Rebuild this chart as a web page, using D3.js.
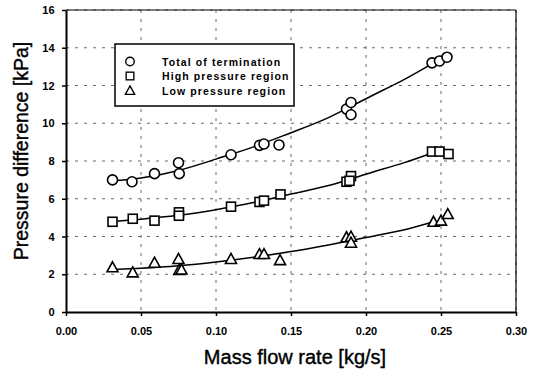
<!DOCTYPE html>
<html>
<head>
<meta charset="utf-8">
<script src="https://cdn.jsdelivr.net/npm/d3@7"></script>
<style>
  body { margin: 0; background: #fff; }
  svg text { font-family: "Liberation Sans", Arial, sans-serif; }
</style>
</head>
<body>
<div id="chart"></div>
<script>
var totalX = [0.031, 0.044, 0.059, 0.075, 0.0755, 0.110, 0.129, 0.132, 0.142, 0.187, 0.190, 0.190, 0.244, 0.249, 0.254]
var totalY = [7.0, 6.9, 7.33, 7.91, 7.33, 8.33, 8.83, 8.9, 8.85, 10.75, 11.1, 10.45, 13.2, 13.3, 13.5]

var highX = [0.031, 0.0445, 0.059, 0.0753, 0.0753, 0.110, 0.129, 0.132, 0.143, 0.187, 0.190, 0.189, 0.244, 0.249, 0.255]
var highY = [4.78, 4.94, 4.84, 5.28, 5.1, 5.58, 5.83, 5.9, 6.23, 6.9, 7.2, 6.95, 8.5, 8.5, 8.37]

var lowX = [0.031, 0.0445, 0.059, 0.075, 0.0755, 0.077, 0.110, 0.129, 0.132, 0.1427, 0.187, 0.190, 0.190, 0.245, 0.250, 0.2545]
var lowY = [2.37, 2.1, 2.61, 2.81, 2.23, 2.25, 2.81, 3.07, 3.07, 2.75, 3.96, 3.99, 3.67, 4.78, 4.84, 5.19]

// trend curves
var fitX = [0.031, 0.05, 0.075, 0.10, 0.125, 0.15, 0.175, 0.20, 0.225, 0.245]
var totalFit = [6.95, 7.1, 7.5, 8.1, 8.75, 9.5, 10.3, 11.3, 12.3, 13.2]
var highFit = [4.8, 4.92, 5.12, 5.42, 5.8, 6.25, 6.7, 7.3, 7.9, 8.45]
var lowFit = [2.25, 2.32, 2.45, 2.65, 2.9, 3.2, 3.55, 3.95, 4.35, 4.78]

var xTicks = [0.00, 0.05, 0.10, 0.15, 0.20, 0.25, 0.30]
var yTicks = [0, 2, 4, 6, 8, 10, 12, 14, 16]
var legendLabels = ['Total of termination', 'High pressure region', 'Low pressure region']

var margin = {top: 10, right: 21, bottom: 60, left: 66},
    width = 537 - margin.left - margin.right,
    height = 372 - margin.top - margin.bottom;

var svg = d3.select('#chart')
  .append('svg')
  .attr('width', 537)
  .attr('height', 372)
  .append('g')
  .attr('transform', 'translate(' + margin.left + ',' + margin.top + ')')

var x = d3.scaleLinear().domain([0, 0.30]).range([0, width])
var y = d3.scaleLinear().domain([0, 16]).range([height, 0])

// grid (dashed, faint)
svg.selectAll('.vgrid')
  .data(xTicks.slice(1))
  .enter().append('line')
  .attr('x1', function (d) { return x(d) })
  .attr('x2', function (d) { return x(d) })
  .attr('y1', 0).attr('y2', height)
  .attr('stroke', '#444').attr('stroke-width', 0.8)
  .attr('stroke-dasharray', '3,6')

svg.selectAll('.hgrid')
  .data(yTicks.slice(1))
  .enter().append('line')
  .attr('x1', 0).attr('x2', width)
  .attr('y1', function (d) { return y(d) })
  .attr('y2', function (d) { return y(d) })
  .attr('stroke', '#444').attr('stroke-width', 0.8)
  .attr('stroke-dasharray', '3,6')

// frame top/right
svg.append('line').attr('x1', 0).attr('x2', width).attr('y1', 0).attr('y2', 0)
  .attr('stroke', '#000').attr('stroke-width', 1.2)
svg.append('line').attr('x1', width).attr('x2', width).attr('y1', 0).attr('y2', height)
  .attr('stroke', '#000').attr('stroke-width', 1.2)

// axes
var xAxis = svg.append('g')
  .attr('transform', 'translate(0,' + height + ')')
  .call(d3.axisBottom(x).tickValues(xTicks).tickFormat(d3.format('.2f')).tickSize(4).tickSizeOuter(0))
var yAxis = svg.append('g')
  .call(d3.axisLeft(y).tickValues(yTicks).tickSize(4).tickSizeOuter(0))

;[xAxis, yAxis].forEach(function (a) {
  a.select('.domain').attr('stroke', '#000').attr('stroke-width', 2)
  a.selectAll('.tick line').attr('stroke', '#000').attr('stroke-width', 1.5)
  a.selectAll('text').attr('font-size', 11).attr('font-weight', 'bold').attr('fill', '#000')
    .style('font-family', '"Liberation Sans", Arial, sans-serif')
})
xAxis.selectAll('text').attr('dy', '1.45em')
yAxis.selectAll('text').attr('dx', '-0.4em')

// axis titles
svg.append('text')
  .attr('text-anchor', 'middle')
  .attr('x', width / 2 + 4)
  .attr('y', height + 52)
  .attr('font-size', 20)
  .attr('stroke', '#000').attr('stroke-width', 0.4)
  .text('Mass flow rate [kg/s]')

svg.append('text')
  .attr('text-anchor', 'middle')
  .attr('transform', 'rotate(-90)')
  .attr('x', -(height / 2) + 10)
  .attr('y', -38)
  .attr('font-size', 19.5)
  .attr('stroke', '#000').attr('stroke-width', 0.4)
  .text('Pressure difference [kPa]')

// trend lines
var line = d3.line()
  .x(function (d) { return x(d[0]) })
  .y(function (d) { return y(d[1]) })
  .curve(d3.curveNatural)

;[totalFit, highFit, lowFit].forEach(function (fit) {
  svg.append('path')
    .datum(fitX.map(function (v, i) { return [v, fit[i]] }))
    .attr('fill', 'none')
    .attr('stroke', '#000')
    .attr('stroke-width', 1.5)
    .attr('d', line)
})

// markers
function pts (xs, ys) { return xs.map(function (v, i) { return [v, ys[i]] }) }

function drawMarker (g, kind) {
  if (kind === 'circle') {
    g.append('circle').attr('r', 5)
  } else if (kind === 'square') {
    g.append('rect').attr('x', -4.5).attr('y', -4.5).attr('width', 9).attr('height', 9)
  } else {
    g.append('path').attr('d', 'M0,-5.5L5.5,4.5L-5.5,4.5Z')
  }
  g.selectAll('*').attr('fill', '#fff').attr('stroke', '#000').attr('stroke-width', 1.6)
}

var sets = [[pts(totalX, totalY), 'circle'], [pts(highX, highY), 'square'], [pts(lowX, lowY), 'triangle']]
sets.forEach(function (s) {
  svg.selectAll(null)
    .data(s[0])
    .enter().append('g')
    .attr('transform', function (d) { return 'translate(' + x(d[0]) + ',' + y(d[1]) + ')' })
    .each(function () { drawMarker(d3.select(this), s[1]) })
})

// legend
var legend = svg.append('g').attr('transform', 'translate(' + (115 - margin.left) + ',' + (44 - margin.top) + ')')
legend.append('rect')
  .attr('width', 179).attr('height', 62)
  .attr('fill', '#fff').attr('stroke', '#000').attr('stroke-width', 1.5)

legendLabels.forEach(function (lab, i) {
  var row = legend.append('g').attr('transform', 'translate(0,' + (17.5 + i * 14.5) + ')')
  var m = row.append('g').attr('transform', 'translate(15,0) scale(0.85)')
  drawMarker(m, sets[i][1])
  row.append('text')
    .attr('x', 47).attr('y', 4)
    .attr('font-size', 10.5).attr('font-weight', 'bold')
    .attr('letter-spacing', 1.1)
    .text(lab)
})
</script>
</body>
</html>
